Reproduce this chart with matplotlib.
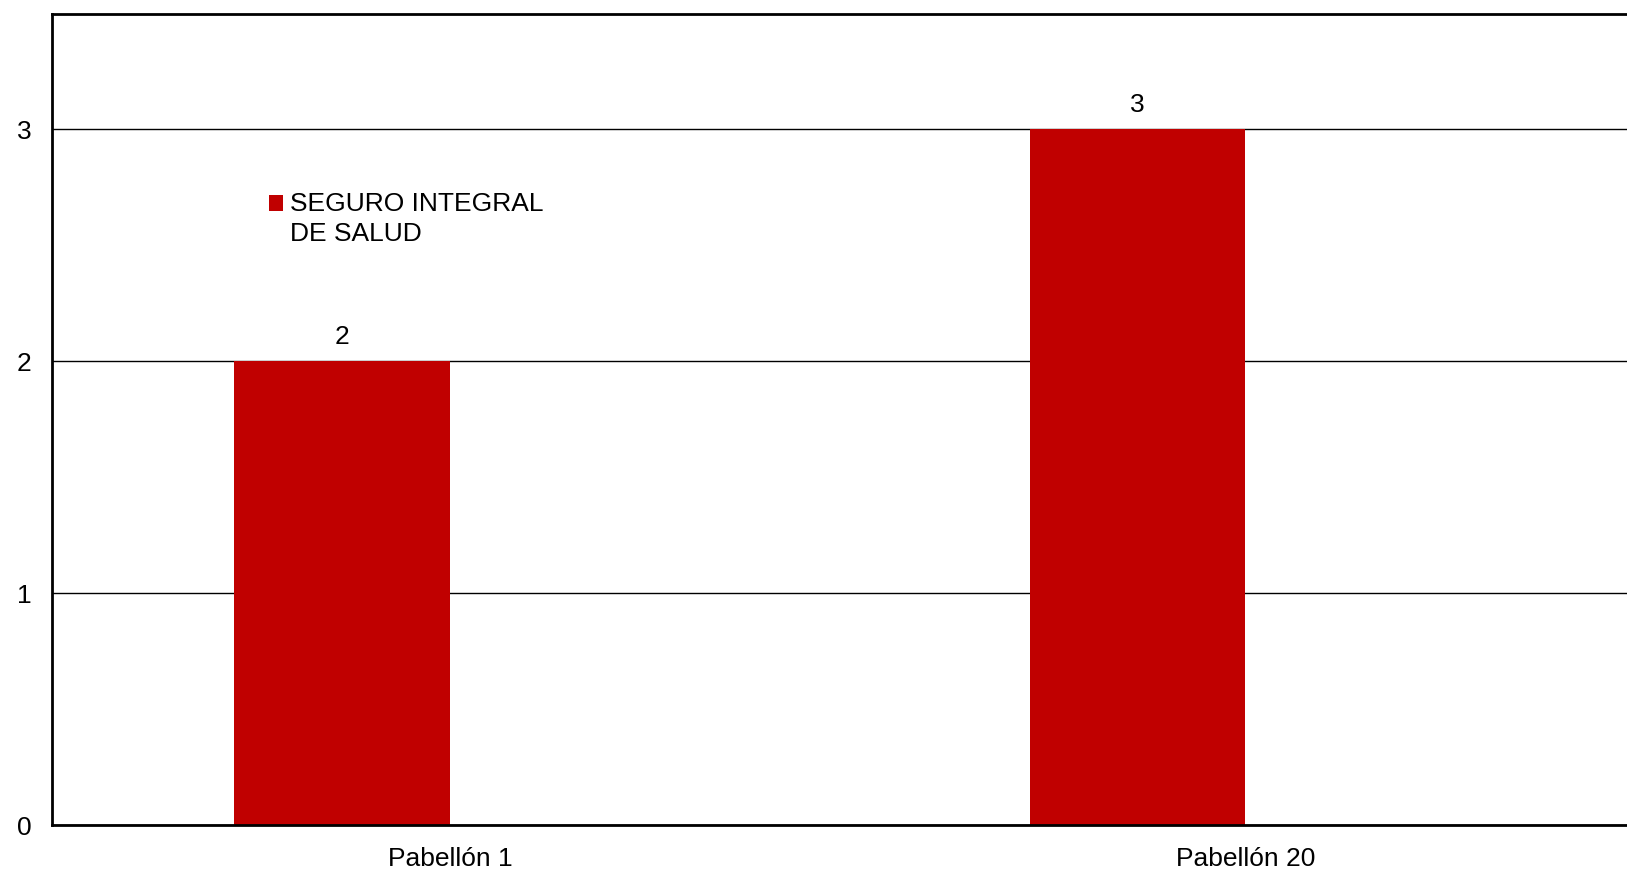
import matplotlib
matplotlib.use("Agg")
import matplotlib.pyplot as plt
from matplotlib.patches import Rectangle
from matplotlib.legend_handler import HandlerPatch
import numpy as np

categories = ["Pabellón 1", "Pabellón 20"]
series_name = "SEGURO INTEGRAL\nDE SALUD"
values = [2, 3]
yticks = [0, 1, 2, 3]
bar_color = "#C00000"

plt.rcParams['font.family'] = ['Liberation Sans', 'DejaVu Sans']

fig = plt.figure(figsize=(16.27, 8.71), dpi=100)
ax = fig.add_axes([0.032, 0.0528, 0.978, 0.9317])

x = np.arange(len(categories))
w = 0.271
bars = ax.bar(x - w / 2, values, width=w, color=bar_color, label=series_name, zorder=2)
ax.bar_label(bars, labels=[str(v) for v in values], padding=9, fontsize=19, color="black")

ax.set_xlim(-0.5, len(categories) - 0.5)
ax.set_ylim(0, 3.5)
ax.set_yticks(yticks)
ax.set_yticklabels([str(t) for t in yticks])
ax.set_xticks(x)
ax.set_xticklabels(categories)
ax.tick_params(axis="both", length=0, labelsize=19, colors="black")
ax.tick_params(axis="y", pad=15)
ax.tick_params(axis="x", pad=16)

ax.yaxis.grid(True, color="black", linewidth=1.0, zorder=1)
ax.set_axisbelow(True)
for s in ax.spines.values():
    s.set_linewidth(2.0)
    s.set_color("black")


def top_square(legend, orig_handle, xdescent, ydescent, width, height, fontsize):
    return Rectangle((-xdescent, -ydescent + 0.6 * fontsize), width, height)


proxy = Rectangle((0, 0), 1, 1, facecolor=bar_color, edgecolor="none")
ax_w_px = 0.978 * 1627
ax_h_px = 0.9317 * 871
leg = ax.legend(handles=[proxy], labels=[series_name], loc="upper left",
                bbox_to_anchor=((269 - 52) / ax_w_px, (825 - 192) / ax_h_px),
                frameon=False, fontsize=19, handlelength=0.52, handleheight=0.52,
                handletextpad=0.28, borderpad=0, borderaxespad=0,
                handler_map={Rectangle: HandlerPatch(patch_func=top_square)})
for t in leg.get_texts():
    t.set_linespacing(1.3)

fig.savefig("out.png", dpi=100)
